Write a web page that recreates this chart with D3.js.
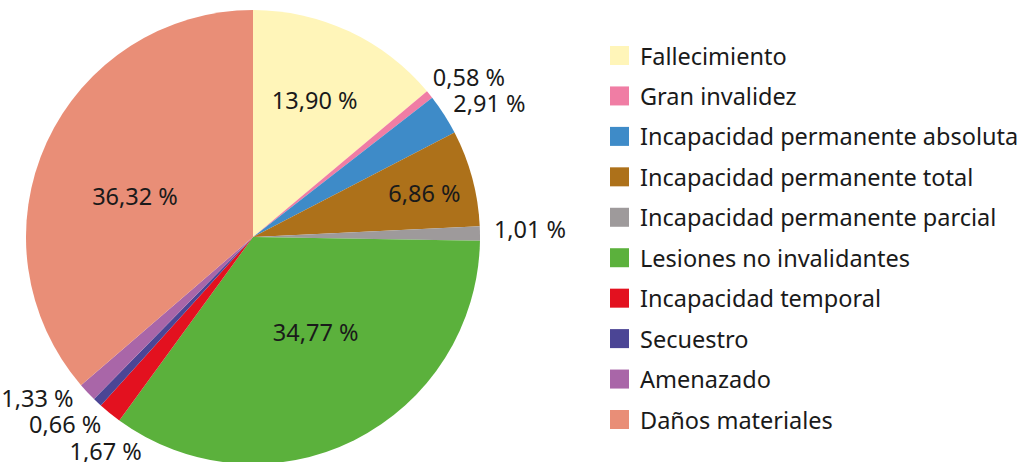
<!DOCTYPE html>
<html>
<head>
<meta charset="utf-8">
<script src="https://cdn.jsdelivr.net/npm/d3@7/dist/d3.min.js"></script>
<style>
  html, body { margin: 0; padding: 0; background: #fff; }
  svg { display: block; font-family: "Noto Sans", "Open Sans", sans-serif; }
</style>
</head>
<body>
<svg id="chart" width="1026" height="462"></svg>
<script>
// Distribution of reported harms by type (percent of total)
const categories = [
  "Fallecimiento",
  "Gran invalidez",
  "Incapacidad permanente absoluta",
  "Incapacidad permanente total",
  "Incapacidad permanente parcial",
  "Lesiones no invalidantes",
  "Incapacidad temporal",
  "Secuestro",
  "Amenazado",
  "Daños materiales"
];
const values = [13.90, 0.58, 2.91, 6.86, 1.01, 34.77, 1.67, 0.66, 1.33, 36.32];
const valueLabels = ["13,90 %", "0,58 %", "2,91 %", "6,86 %", "1,01 %", "34,77 %", "1,67 %", "0,66 %", "1,33 %", "36,32 %"];
const colors = ["#fff5b9", "#f07da4", "#3e8bc8", "#ad711a", "#9e9a9b", "#5bb13c", "#e3111f", "#4b4595", "#a966a8", "#e98e77"];

const svg = d3.select("#chart");
const cx = 253, cy = 237, R = 227;
const fontSize = 23.5;

const pie = d3.pie().sort(null).value(d => d.value).startAngle(0).endAngle(2 * Math.PI);
const data = categories.map((c, i) => ({ name: c, value: values[i], label: valueLabels[i], color: colors[i] }));
const arcs = pie(data);
const arc = d3.arc().innerRadius(0).outerRadius(R);

const g = svg.append("g").attr("transform", `translate(${cx},${cy})`);
g.selectAll("path.slice")
  .data(arcs)
  .join("path")
  .attr("class", "slice")
  .attr("d", arc)
  .attr("fill", d => d.data.color);

// Large slices carry their label inside; small ones get it just outside the rim.
const insideRadius = { "Fallecimiento": 0.66, "Incapacidad permanente total": 0.78, "Lesiones no invalidantes": 0.5, "Daños materiales": 0.55 };
const insideNudge = { "Fallecimiento": -0.7, "Incapacidad permanente total": 0.6, "Lesiones no invalidantes": -7, "Daños materiales": -5.6 };

const inside = [], outside = [];
arcs.forEach(a => {
  const mid = (a.startAngle + a.endAngle) / 2;
  if (insideRadius[a.data.name] !== undefined) {
    const ang = mid + insideNudge[a.data.name] * Math.PI / 180;
    const r = R * insideRadius[a.data.name];
    inside.push({ a, x: r * Math.sin(ang), y: -r * Math.cos(ang) });
  } else {
    const r = R + 14;
    outside.push({ a, mid, r, right: Math.sin(mid) > 0, x: r * Math.sin(mid), y: -r * Math.cos(mid) - 4 });
  }
});

// Spread out crowded outside labels vertically, keeping them on the label circle.
const gap = 26.5;
const rightSide = outside.filter(o => o.right).sort((p, q) => q.y - p.y);
for (let i = 1; i < rightSide.length; i++) {
  if (rightSide[i - 1].y - rightSide[i].y < gap) rightSide[i].y = rightSide[i - 1].y - gap;
}
const leftSide = outside.filter(o => !o.right).sort((p, q) => p.y - q.y);
for (let i = 1; i < leftSide.length; i++) {
  if (leftSide[i].y - leftSide[i - 1].y < gap) leftSide[i].y = leftSide[i - 1].y + gap;
}
outside.forEach(o => {
  const dx = Math.sqrt(Math.max(0, o.r * o.r - o.y * o.y));
  o.x = o.right ? dx : -dx;
});

g.selectAll("text.inside")
  .data(inside)
  .join("text")
  .attr("class", "inside")
  .attr("x", d => d.x)
  .attr("y", d => d.y)
  .attr("text-anchor", "middle")
  .attr("dominant-baseline", "central")
  .attr("font-size", fontSize)
  .attr("fill", "#1a1a1a")
  .text(d => d.a.data.label);

g.selectAll("text.outside")
  .data(outside)
  .join("text")
  .attr("class", "outside")
  .attr("x", d => d.x)
  .attr("y", d => d.y)
  .attr("text-anchor", d => d.right ? "start" : "end")
  .attr("dominant-baseline", "central")
  .attr("font-size", fontSize)
  .attr("fill", "#1a1a1a")
  .text(d => d.a.data.label);

// Legend
const legendY = d3.scalePoint().domain(categories).range([55.5, 419.5]);
const legend = svg.append("g");
const items = legend.selectAll("g.item")
  .data(data)
  .join("g")
  .attr("class", "item")
  .attr("transform", d => `translate(610,${legendY(d.name)})`);
items.append("rect")
  .attr("x", 0).attr("y", -9.5)
  .attr("width", 19).attr("height", 19)
  .attr("fill", d => d.color);
items.append("text")
  .attr("x", 30)
  .attr("y", 0)
  .attr("dominant-baseline", "central")
  .attr("font-size", fontSize)
  .attr("fill", "#1a1a1a")
  .text(d => d.name);
</script>
</body>
</html>
